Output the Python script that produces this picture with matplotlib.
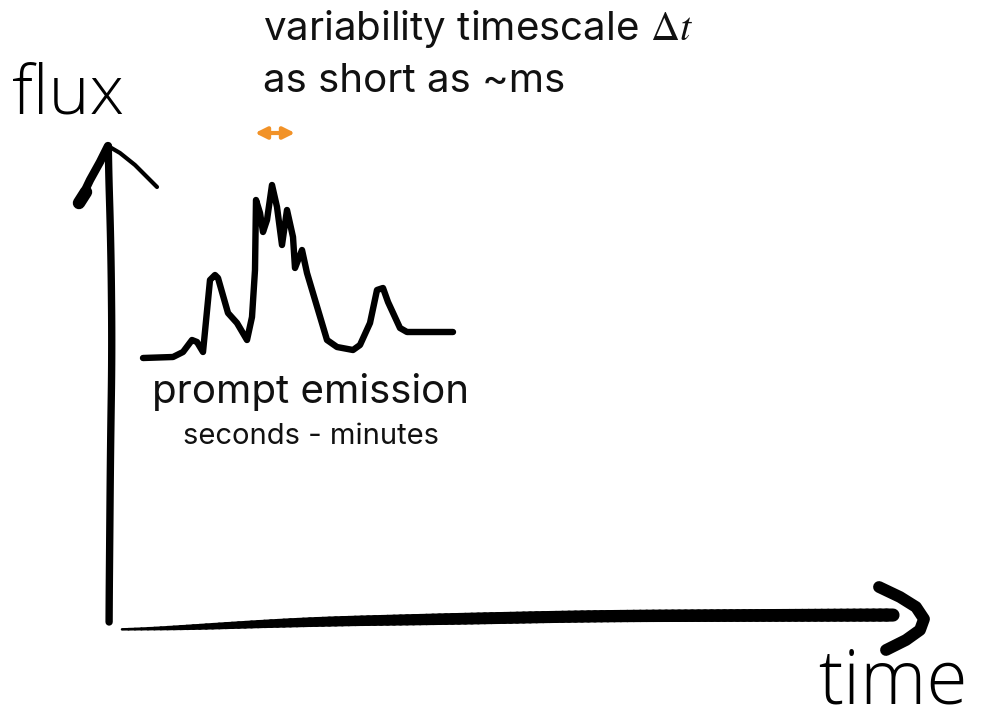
import matplotlib
matplotlib.use("Agg")
import matplotlib.pyplot as plt
import numpy as np
from matplotlib.collections import LineCollection

# Sketched light curve (pixel-space coordinates of the drawing)
time = [143, 173, 183, 192, 197, 203, 210, 215, 218, 228, 237, 247, 252, 255, 256,
        260, 263, 267, 272, 277, 282, 287, 293, 295, 302, 307, 327, 337, 353, 360,
        370, 377, 383, 388, 400, 407, 453]
flux = [358, 357, 352, 340, 342, 352, 280, 275, 278, 313, 323, 340, 317, 270, 200,
        213, 232, 220, 185, 207, 245, 210, 237, 268, 250, 273, 340, 347, 350, 345,
        323, 290, 288, 302, 328, 332, 332]

title_lines = ["variability timescale $\\Delta t$", "as short as ~ms"]
label_main = "prompt emission"
label_sub = "seconds - minutes"
y_label = "flux"
x_label = "time"

plt.rcParams['font.family'] = ['Inter', 'DejaVu Sans']
plt.rcParams['mathtext.fontset'] = 'stix'

fig = plt.figure(figsize=(9.94, 7.21), dpi=100)
ax = fig.add_axes([0, 0, 1, 1])
ax.set_xlim(0, 994)
ax.set_ylim(721, 0)
ax.axis('off')

ink = 'black'


def smooth(v, k=9):
    pad = np.pad(v, k // 2, mode='edge')
    return np.convolve(pad, np.ones(k) / k, mode='valid')


# light curve
ax.plot(time, flux, color=ink, lw=4.6, solid_joinstyle='round', solid_capstyle='round')

# y axis (slightly wobbly hand-drawn stroke)
yy = np.linspace(148, 622, 80)
xx = smooth(np.interp(yy, [148, 250, 350, 450, 622], [108, 111, 112, 110.5, 109]), 15)
ax.plot(xx, yy, color=ink, lw=5.3, solid_capstyle='round')
# y arrowhead
ax.plot([79, 90, 100, 108], [203, 180, 162, 146], color=ink, lw=6, solid_capstyle='round')
ax.plot([79, 86], [203, 192], color=ink, lw=9, solid_capstyle='round')
ax.plot([108, 120, 135, 148, 157], [146, 153, 165, 178, 187], color=ink, lw=3, solid_capstyle='round')

# x axis, thickening to the right
xs = np.linspace(122, 893, 120)
ys = smooth(np.interp(xs, [122, 200, 300, 450, 600, 893], [630, 627, 622, 619, 616, 615]), 21)
segs = [[(xs[i], ys[i]), (xs[i + 1], ys[i + 1])] for i in range(len(xs) - 1)]
widths = smooth(np.interp(xs[:-1], [122, 200, 300, 450, 893], [1.5, 4.5, 7.0, 8.5, 9.5]), 11)
ax.add_collection(LineCollection(segs, linewidths=widths, colors=ink, capstyle='round'))
# x arrowhead (chevron)
ax.plot([879, 900, 916, 924, 920, 906, 886], [587, 597, 607, 619, 630, 640, 650],
        color=ink, lw=8.5, solid_capstyle='round', solid_joinstyle='round')

# orange double arrow
ax.annotate('', xy=(255, 133), xytext=(295, 133),
            arrowprops=dict(arrowstyle='<|-|>', color='#f29227', lw=3,
                            mutation_scale=17, shrinkA=0, shrinkB=0))

# texts
ax.text(263, 29, title_lines[0], fontsize=29, va='center', ha='left', color='#111111')
ax.text(263, 82, title_lines[1], fontsize=29, va='center', ha='left', color='#111111')
ax.text(311, 392, label_main, fontsize=29, va='center', ha='center', color='#111111')
ax.text(311, 437, label_sub, fontsize=21, va='center', ha='center', color='#111111')

# hand-written style axis labels
ax.text(12, 96, y_label, fontsize=50, va='center', ha='left', color=ink,
        family=['Open Sans', 'DejaVu Sans'], weight='light')
ax.text(818, 684, x_label, fontsize=54, va='center', ha='left', color=ink,
        family=['Open Sans', 'DejaVu Sans'], weight='light')

fig.savefig('out.png', dpi=100)
